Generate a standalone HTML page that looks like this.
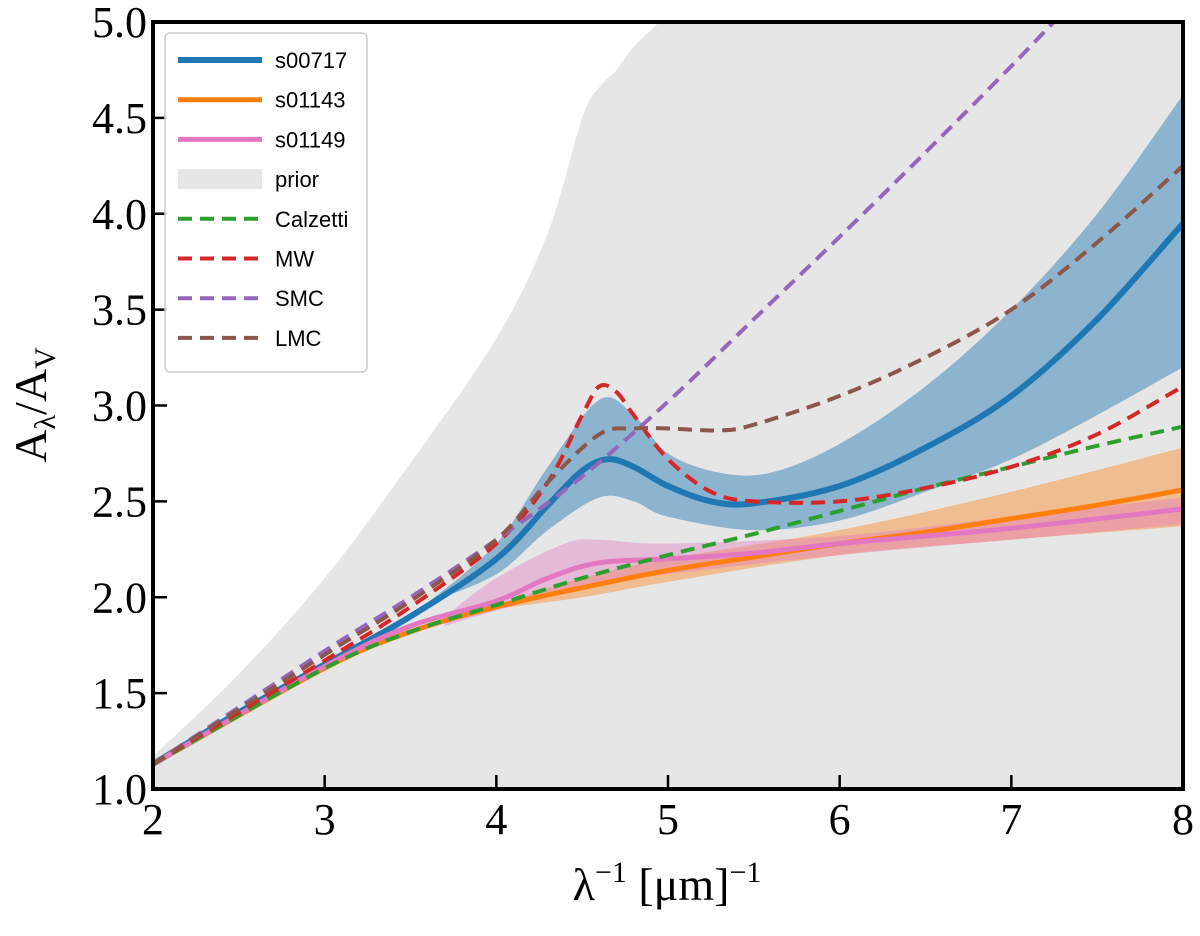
<!DOCTYPE html>
<html><head><meta charset="utf-8"><style>
body{margin:0;background:#fff}
svg text{font-family:"Liberation Serif",serif}
</style></head><body>
<svg id="c" width="1200" height="931" xmlns="http://www.w3.org/2000/svg"></svg>
<script>
const xTicks=[2,3,4,5,6,7,8];
const yTicks=[1.0,1.5,2.0,2.5,3.0,3.5,4.0,4.5,5.0];
const priorUpper=[[2,1.17],[2.5,1.6],[3,2.1],[3.5,2.7],[4,3.35],[4.3,3.9],[4.5,4.5],[4.6,4.66],[4.7,4.75],[4.8,4.87],[4.95,5.0]];
const s00717=[[2,1.13],[2.5,1.4],[3,1.65],[3.5,1.9],[4,2.2],[4.3,2.48],[4.5,2.66],[4.65,2.72],[4.8,2.68],[5,2.58],[5.25,2.5],[5.5,2.49],[6,2.58],[6.5,2.78],[7,3.05],[7.5,3.45],[8,3.95]];
const s00717Up=[[3.6,1.97],[4,2.28],[4.3,2.68],[4.6,3.03],[4.8,2.95],[5,2.75],[5.3,2.65],[5.6,2.65],[6,2.8],[6.5,3.1],[7,3.5],[7.5,4.0],[8,4.62]];
const s00717Lo=[[3.6,1.97],[4,2.12],[4.3,2.35],[4.6,2.52],[4.8,2.5],[5,2.42],[5.5,2.35],[6,2.4],[6.5,2.55],[7,2.72],[7.5,2.95],[8,3.2]];
const s01143=[[2,1.13],[3,1.63],[3.5,1.82],[4,1.95],[4.5,2.05],[5,2.14],[5.5,2.21],[6,2.28],[6.5,2.34],[7,2.41],[7.5,2.48],[8,2.56]];
const s01143Up=[[4,1.96],[4.5,2.1],[5,2.2],[6,2.35],[7,2.55],[8,2.78]];
const s01143Lo=[[4,1.94],[4.5,2.0],[5,2.08],[6,2.22],[7,2.3],[8,2.37]];
const s01149=[[2,1.13],[3,1.64],[3.5,1.85],[4,1.98],[4.3,2.1],[4.6,2.18],[5,2.2],[5.5,2.23],[6,2.28],[7,2.36],[8,2.46]];
const s01149Up=[[3.7,1.9],[4,2.1],[4.4,2.28],[4.6,2.3],[5,2.28],[6,2.32],[7,2.42],[8,2.52]];
const s01149Lo=[[3.7,1.85],[4,1.93],[4.5,2.05],[5,2.12],[6,2.22],[7,2.3],[8,2.38]];
const calzetti=[[2,1.13],[3,1.63],[3.5,1.82],[4,1.96],[4.5,2.1],[5,2.22],[5.5,2.33],[6,2.45],[6.5,2.57],[7,2.68],[7.5,2.79],[8,2.89]];
const mw=[[2,1.13],[3,1.67],[3.5,1.95],[4,2.28],[4.3,2.6],[4.5,2.95],[4.6,3.1],[4.7,3.07],[4.8,2.95],[5,2.72],[5.25,2.55],[5.5,2.5],[6,2.5],[6.5,2.57],[7,2.68],[7.5,2.85],[8,3.1]];
const smc=[[2,1.13],[3,1.72],[3.5,2.0],[4,2.3],[4.5,2.63],[5,3.02],[5.5,3.45],[6,3.88],[6.5,4.32],[7,4.77],[7.3,5.05]];
const lmc=[[2,1.13],[3,1.7],[3.5,1.98],[4,2.3],[4.3,2.6],[4.6,2.85],[4.8,2.88],[5,2.88],[5.3,2.87],[5.5,2.9],[6,3.05],[6.5,3.25],[7,3.5],[7.5,3.85],[8,4.25]];

const L=153,R=1183,T=22,B=789;
const sx=v=>L+(v-2)/6*(R-L), sy=v=>B-(v-1)/4*(B-T);
const NS='http://www.w3.org/2000/svg', svg=document.getElementById('c');
function el(t,a,p){const e=document.createElementNS(NS,t);for(const k in a)e.setAttribute(k,a[k]);(p||svg).appendChild(e);return e;}
function smooth(pts,move){const P=pts.map(p=>[sx(p[0]),sy(p[1])]);let d=(move?'M':'L')+P[0][0]+','+P[0][1];
for(let i=0;i<P.length-1;i++){const p0=P[Math.max(i-1,0)],p1=P[i],p2=P[i+1],p3=P[Math.min(i+2,P.length-1)];
d+=`C${p1[0]+(p2[0]-p0[0])/6},${p1[1]+(p2[1]-p0[1])/6} ${p2[0]-(p3[0]-p1[0])/6},${p2[1]-(p3[1]-p1[1])/6} ${p2[0]},${p2[1]}`;}return d;}
function band(up,lo){return smooth(up,true)+smooth(lo.slice().reverse(),false)+'Z';}
el('clipPath',{id:'clip'}).appendChild(document.createElementNS(NS,'rect'));
const cr=svg.querySelector('#clip rect');cr.setAttribute('x',L);cr.setAttribute('y',T);cr.setAttribute('width',R-L);cr.setAttribute('height',B-T);
const g=el('g',{'clip-path':'url(#clip)'});
let e=el('rect',{x:L,y:T,width:R-L,height:B-T,fill:'#e6e6e6'},g);

e=el('path',{d:smooth(priorUpper,true)+`L${sx(4.95)},${T-5}L${L},${T-5}Z`,fill:'#ffffff'},g);

e=el('path',{d:band(s00717Up,s00717Lo),fill:'#1f77b4','fill-opacity':0.45},g);

e=el('path',{d:band(s01143Up,s01143Lo),fill:'#ff7f0e','fill-opacity':0.4},g);

e=el('path',{d:band(s01149Up,s01149Lo),fill:'#e377c2','fill-opacity':0.4},g);

const lines=[[s00717,'#1f77b4',6,null,'s00717-line'],[s01143,'#ff7f0e',5,null,'s01143-line'],[s01149,'#e377c2',5,null,'s01149-line'],
[calzetti,'#2ca02c',4,'14,8','calzetti-line'],[mw,'#d62728',4,'14,8','mw-line'],[smc,'#9467bd',4,'14,8','smc-line'],[lmc,'#8c564b',4,'14,8','lmc-line']];
for(const [d,c,w,da,n] of lines){e=el('path',{d:smooth(d,true),fill:'none',stroke:c,'stroke-width':w,'stroke-dasharray':da||'none'},g);
}
for(const t of xTicks){el('line',{x1:sx(t),x2:sx(t),y1:B,y2:B-14,stroke:'#000','stroke-width':2.5});
e=el('text',{x:sx(t),y:B+45,'font-size':44,'text-anchor':'middle'});e.textContent=t;
}
for(const t of yTicks){el('line',{x1:L,x2:L+14,y1:sy(t),y2:sy(t),stroke:'#000','stroke-width':2.5});
e=el('text',{x:L-6,y:sy(t)+15,'font-size':44,'text-anchor':'end'});e.textContent=t.toFixed(1);
}
e=el('rect',{x:L,y:T,width:R-L,height:B-T,fill:'none',stroke:'#000','stroke-width':4});

e=el('text',{x:667,y:900,'font-size':46,'text-anchor':'middle'});
e.innerHTML='λ<tspan font-size="30" dy="-18">−1</tspan><tspan dy="18"> [μm]</tspan><tspan font-size="30" dy="-18">−1</tspan>';

e=el('text',{x:0,y:0,'font-size':46,'text-anchor':'middle',transform:'translate(46,405) rotate(-90)'});
e.innerHTML='A<tspan font-size="30" dy="9">λ</tspan><tspan dy="-9">/A</tspan><tspan font-size="30" dy="9">V</tspan>';

const lg=el('g',{});
el('rect',{x:165,y:33,width:202,height:339,rx:5,fill:'#fff','fill-opacity':0.85,stroke:'#ccc','stroke-width':1.5},lg);
const items=[['s00717','#1f77b4',6,null],['s01143','#ff7f0e',5,null],['s01149','#e377c2',5,null],['prior','#e6e6e6',0,null],
['Calzetti','#2ca02c',4,'14,8'],['MW','#d62728',4,'14,8'],['SMC','#9467bd',4,'14,8'],['LMC','#8c564b',4,'14,8']];
items.forEach((it,i)=>{const y=60+i*39.7;const gi=el('g',{},lg);


if(it[2]===0)el('rect',{x:178,y:y-10,width:84,height:20,fill:'#e6e6e6'},gi);
else el('line',{x1:178,x2:262,y1:y,y2:y,stroke:it[1],'stroke-width':it[2],'stroke-dasharray':it[3]||'none'},gi);
const t=el('text',{x:275,y:y+8,'font-size':22,style:'font-family:"Liberation Sans",sans-serif'},gi);t.textContent=it[0];});
</script>
</body></html>
